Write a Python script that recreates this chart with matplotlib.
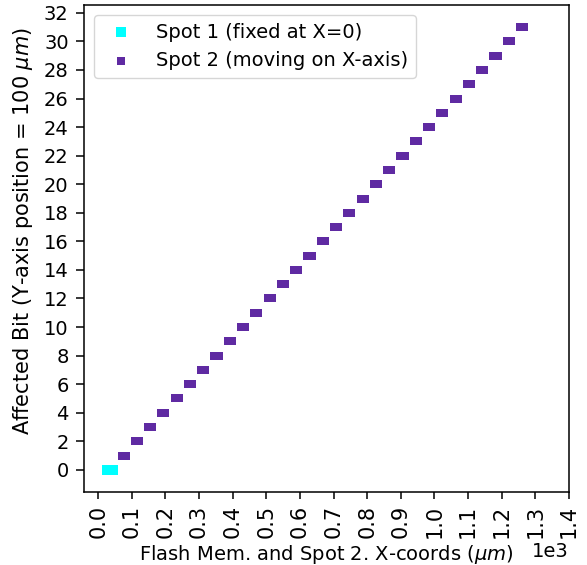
import matplotlib
matplotlib.use("Agg")
import matplotlib.pyplot as plt
import numpy as np

# Spot 1 (fixed) samples, x in um, y = affected bit
spot1_x = [25, 34, 43]
spot1_bit = [0, 0, 0]

# Spot 2 dash centres per affected bit (um)
spot2_bits = list(range(1, 32))
spot2_centres = [75.5, 115, 154.5, 194, 233.5, 273, 312.5, 352, 391.5, 431,
                 470.5, 510, 549.5, 589, 628.5, 668, 707.5, 747, 786.5, 826,
                 865.5, 905, 944.5, 984, 1023.5, 1063, 1102.5, 1142, 1181.5,
                 1221, 1260.5]
spot2_offsets = [-6, -3, 0, 3, 6]

xticks = [0, 100, 200, 300, 400, 500, 600, 700, 800, 900, 1000, 1100, 1200, 1300, 1400]
yticks = list(range(0, 33, 2))

s2x, s2y = [], []
for b, c in zip(spot2_bits, spot2_centres):
    for o in spot2_offsets:
        s2x.append(c + o)
        s2y.append(b)

fig = plt.figure(figsize=(5.87, 5.65), dpi=100)
ax = fig.add_axes([84/587, 73/565, (569-84)/587, (560-73)/565])

ax.scatter(spot1_x, spot1_bit, marker='s', s=60, color='#00ffff', linewidths=0,
           label='Spot 1 (fixed at X=0)', zorder=2)
ax.scatter(s2x, s2y, marker='s', s=38, color='#5f2aa2', linewidths=0,
           label='Spot 2 (moving on X-axis)', zorder=3)

ax.set_xticks(xticks)
ax.set_yticks(yticks)
ax.set_xlim(-42, 1400)
ax.set_ylim(-1.55, 32.55)
ax.ticklabel_format(style='sci', axis='x', scilimits=(0, 0))
ax.tick_params(axis='x', labelrotation=90, labelsize=15, length=5, width=1.1, pad=4)
ax.tick_params(axis='y', labelsize=14, length=5.5, width=1.1, pad=5.5)
for sp in ax.spines.values():
    sp.set_linewidth(1.1)
ax.xaxis.get_offset_text().set_fontsize(14)
ax.set_xlabel(r'Flash Mem. and Spot 2. X-coords ($\mu m$)', fontsize=14)
ax.set_ylabel(r'Affected Bit (Y-axis position = 100 $\mu m$)', fontsize=15)
ax.yaxis.set_label_coords(-0.1, 0.536)
ax.legend(loc='upper left', fontsize=14)

fig.savefig('out.png', dpi=100)
